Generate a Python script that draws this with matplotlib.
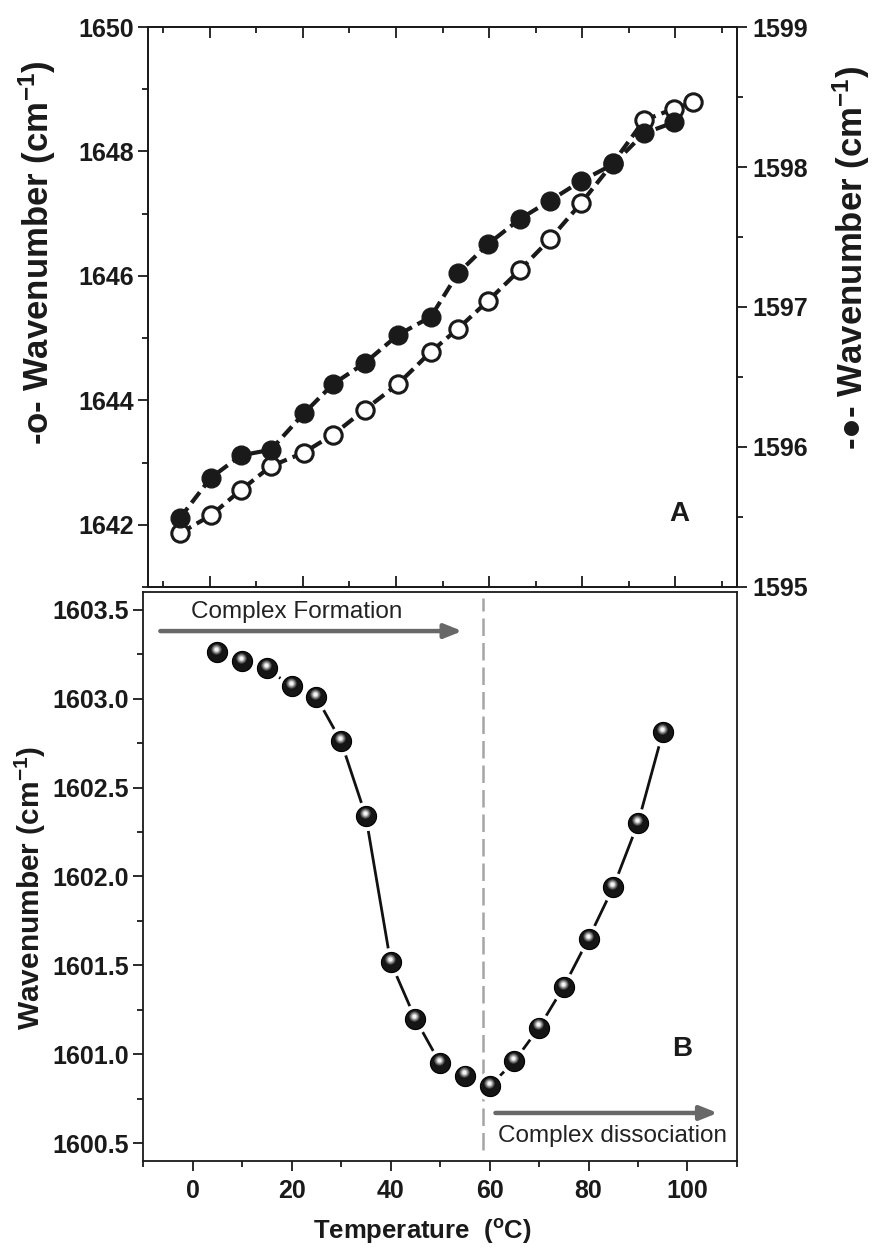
import matplotlib
matplotlib.use("Agg")
import matplotlib.pyplot as plt
from matplotlib import font_manager
from matplotlib.ticker import MultipleLocator, FormatStrFormatter
from matplotlib.transforms import offset_copy

# panel A: band positions vs temperature (own x scale, no tick labels)
temp_a = [-6.5, 0.2, 6.7, 13.1, 20.2, 26.5, 33.3, 40.4, 47.5, 53.3, 59.8,
          66.7, 73.1, 79.8, 86.7, 93.3, 99.8]
band_filled = [1595.49, 1595.78, 1595.94, 1595.98, 1596.24, 1596.45, 1596.60,
               1596.80, 1596.93, 1597.24, 1597.45, 1597.63, 1597.76, 1597.90,
               1598.02, 1598.24, 1598.32]
temp_a_open = temp_a + [103.9]
band_open = [1641.86, 1642.15, 1642.56, 1642.94, 1643.16, 1643.45, 1643.85,
             1644.26, 1644.78, 1645.15, 1645.60, 1646.10, 1646.59, 1647.17,
             1647.82, 1648.50, 1648.69, 1648.79]

# panel B
temp_b = [5, 10, 15, 20, 25, 30, 35, 40, 45, 50, 55, 60, 65, 70, 75, 80, 85, 90, 95]
wn_b = [1603.26, 1603.21, 1603.17, 1603.07, 1603.01, 1602.76, 1602.34,
        1601.52, 1601.20, 1600.95, 1600.88, 1600.82, 1600.96, 1601.15,
        1601.38, 1601.65, 1601.94, 1602.30, 1602.81]
t_transition = 58.6

names = {f.name for f in font_manager.fontManager.ttflist}
NARROW = 'Liberation Sans Narrow' in names
FAM = ['Liberation Sans', 'DejaVu Sans']
FAM_N = ['Liberation Sans Narrow'] + FAM if NARROW else FAM
tick_fs = 21 if NARROW else 18
note_fs = 21 if NARROW else 17.5

plt.rcParams['font.family'] = FAM
plt.rcParams['mathtext.default'] = 'regular'

ink = '#1a1a1a'
fig = plt.figure(figsize=(8.78, 12.52), dpi=100)


def style_labels(labels):
    for lab in labels:
        lab.set_fontfamily(FAM_N)
        lab.set_fontsize(tick_fs)
        lab.set_fontweight('bold')
        lab.set_color(ink)


# ---------- panel A ----------
axA = fig.add_axes([0.1686, 0.5312, 0.6708, 0.4472])
axA.set_xlim(-13.3, 113.3)
axA.set_ylim(1641, 1650)
axA.xaxis.set_major_locator(MultipleLocator(20))
axA.xaxis.set_minor_locator(MultipleLocator(10))
axA.yaxis.set_major_locator(MultipleLocator(2))
axA.yaxis.set_minor_locator(MultipleLocator(1))
axA.tick_params(axis='x', which='both', direction='in', top=True, bottom=True,
                labelbottom=False, color=ink, width=1.3)
axA.tick_params(axis='x', which='major', length=8)
axA.tick_params(axis='x', which='minor', length=4)
axA.tick_params(axis='y', which='both', direction='out', right=False, color=ink, width=1.3, pad=3)
axA.tick_params(axis='y', which='major', length=7)
axA.tick_params(axis='y', which='minor', length=4)
style_labels(axA.get_yticklabels())

axA.plot(temp_a_open, band_open, ls=(0, (3.2, 1.5)), lw=3, color=ink,
         dash_capstyle='butt', marker='o', ms=12.5, mfc='white', mec=ink, mew=2.2)
axA.text(101, 1642.18, 'A', fontsize=20, fontweight='bold', ha='center', va='center', color=ink)

axA2 = axA.twinx()
axA2.set_ylim(1595, 1599)
axA2.yaxis.set_major_locator(MultipleLocator(1))
axA2.yaxis.set_minor_locator(MultipleLocator(0.5))
axA2.tick_params(axis='y', which='both', direction='out', color=ink, width=1.3, pad=4)
axA2.tick_params(axis='y', which='major', length=7)
axA2.tick_params(axis='y', which='minor', length=4)
style_labels(axA2.get_yticklabels())
axA2.plot(temp_a, band_filled, ls=(0, (3.2, 1.5)), lw=3, color=ink,
          dash_capstyle='butt', marker='o', ms=13.5, mfc=ink, mec=ink)

for ax in (axA, axA2):
    for s in ax.spines.values():
        s.set_linewidth(1.3)
        s.set_color(ink)

fig.text(37 / 878, 1 - 253 / 1252, '-o- Wavenumber (cm$^{-1}$)', rotation=90,
         ha='center', va='center', fontsize=25, fontweight='bold', color=ink)
fig.text(851 / 878, 1 - 258 / 1252, '-\u25cf- Wavenumber (cm$^{-1}$)', rotation=90,
         ha='center', va='center', fontsize=25, fontweight='bold', color=ink)

# ---------- panel B ----------
axB = fig.add_axes([0.1629, 0.0727, 0.6765, 0.4545])
axB.set_xlim(-10, 110)
axB.set_ylim(1600.4, 1603.6)
axB.xaxis.set_major_locator(MultipleLocator(20))
axB.xaxis.set_minor_locator(MultipleLocator(10))
axB.yaxis.set_major_locator(MultipleLocator(0.5))
axB.yaxis.set_minor_locator(MultipleLocator(0.25))
axB.yaxis.set_major_formatter(FormatStrFormatter('%.1f'))
axB.tick_params(axis='both', which='both', direction='out', color=ink, width=1.3)
axB.tick_params(axis='both', which='major', length=7)
axB.tick_params(axis='both', which='minor', length=4)
axB.tick_params(axis='x', pad=6)
axB.tick_params(axis='y', pad=3)
style_labels(axB.get_xticklabels() + axB.get_yticklabels())
for s in axB.spines.values():
    s.set_linewidth(1.3)
    s.set_color(ink)

axB.axvline(t_transition, ymin=0.02, ymax=0.99, color='#a5a5a5', lw=1.8,
            ls=(0, (7, 2.8)), zorder=1)
axB.plot(temp_b, wn_b, color='#111111', lw=2, zorder=2)
axB.plot(temp_b, wn_b, ls='none', marker='o', ms=20, mfc='white', mec='white', zorder=3)
axB.plot(temp_b, wn_b, ls='none', marker='o', ms=14.5, mfc='#151515', mec='#000000', mew=0.8, zorder=4)
hl = offset_copy(axB.transData, fig=fig, x=-0.6, y=2.3, units='points')
for size, col, z in [(7.5, '#4a4a4a', 5), (6, '#808080', 6), (4.5, '#b5b5b5', 7), (3, '#f4f4f4', 8)]:
    axB.plot(temp_b, wn_b, ls='none', marker='o', ms=size, mfc=col, mec='none',
             transform=hl, zorder=z)

arrow_kw = dict(arrowstyle='-|>,head_length=0.7,head_width=0.28', lw=3.2,
                color='#686868', shrinkA=0, shrinkB=0, mutation_scale=15)
axB.annotate('', xy=(54.5, 1603.38), xytext=(-6.5, 1603.38), arrowprops=arrow_kw)
axB.annotate('', xy=(106.1, 1600.67), xytext=(61.2, 1600.67), arrowprops=arrow_kw)
axB.text(21.0, 1603.49, 'Complex Formation', ha='center', va='center',
         fontsize=note_fs, family=FAM_N, color='#222222')
axB.text(84.8, 1600.54, 'Complex dissociation', ha='center', va='center',
         fontsize=note_fs, family=FAM_N, color='#222222')
axB.text(99, 1601.03, 'B', fontsize=20, fontweight='bold', ha='center', va='center', color=ink)

fig.text(30 / 878, 1 - 888 / 1252, 'Wavenumber (cm$^{-1}$)', rotation=90,
         ha='center', va='center', fontsize=21.5, fontweight='bold', color=ink)
fig.text(422 / 878, 1 - 1232 / 1252, 'Temperature  ($^{o}$C)', ha='center', va='center',
         fontsize=tick_fs + 0.5, fontweight='bold', family=FAM_N, color=ink)

fig.savefig('out.png', dpi=100)
